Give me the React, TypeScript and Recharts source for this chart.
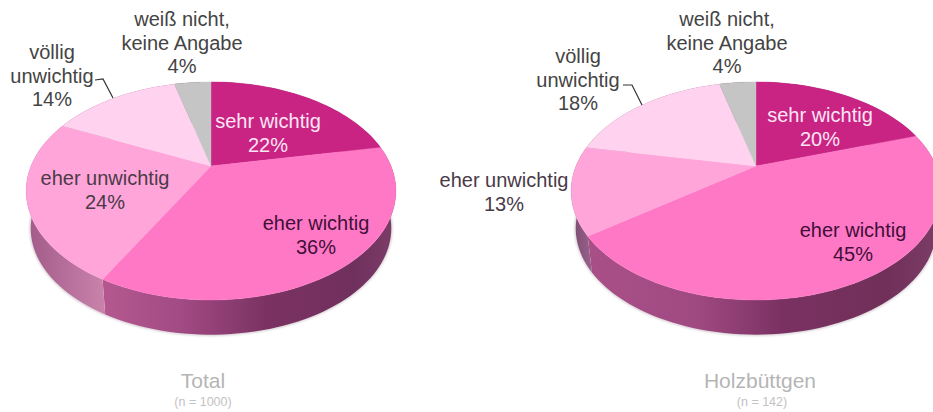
import React from "react";
import { PieChart, Pie } from "recharts";

const categories = [
  ["sehr wichtig"],
  ["eher wichtig"],
  ["eher unwichtig"],
  ["völlig", "unwichtig"],
  ["weiß nicht,", "keine Angabe"],
];
const totalValues = [22, 36, 24, 14, 4];
const holzbuettgenValues = [20, 45, 13, 18, 4];
const panelTitles = ["Total", "Holzbüttgen"];
const panelNotes = ["(n = 1000)", "(n = 142)"];

const topColors = ["#c92384", "#ff78c6", "#ffa5da", "#ffd3ef", "#c5c5c5"];
const labelColors = ["#fde6f4", "#3f0f38", "#4a3a48", "#444444", "#444444"];

// the pie is seen in perspective, so the hub sits above the middle of the ellipse
const TILT = 0.574;
const PERSP = 0.229;
const RADIUS = 180;
const CY = 166;
const DEPTH = 38;
const FONT = "'Liberation Sans', Arial, sans-serif";

const project = (cx: number, cy: number, r: number, deg: number) => {
  const a = (deg * Math.PI) / 180;
  const d = 1 + PERSP * Math.sin(a);
  return [cx + (r * Math.cos(a)) / d, cy - (r * TILT * Math.sin(a)) / d];
};

const arc = (cx: number, cy: number, r: number, start: number, end: number) => {
  const pts: number[][] = [];
  const steps = Math.max(2, Math.ceil(Math.abs(end - start) / 2));
  for (let i = 0; i <= steps; i++) {
    pts.push(project(cx, cy, r, start + ((end - start) * i) / steps));
  }
  return pts;
};

const toLine = (pts: number[][]) =>
  "M" + pts.map((p) => p[0].toFixed(2) + "," + p[1].toFixed(2)).join("L");

const TopSlice = (props: any) => {
  const { cx, cy, outerRadius, startAngle, endAngle, fill } = props;
  const pts = [[cx, cy], ...arc(cx, cy, outerRadius, startAngle, endAngle)];
  return <path d={toLine(pts) + "Z"} fill={fill} stroke={fill} strokeWidth={0.4} />;
};

const SideSlice = (props: any) => {
  const { cx, cy, outerRadius, startAngle, endAngle, fill } = props;
  const upper = arc(cx, cy, outerRadius, startAngle, endAngle);
  const lower = arc(cx, cy + DEPTH, outerRadius * 0.975, endAngle, startAngle);
  return (
    <g>
      <path
        d={toLine(lower)}
        fill="none"
        stroke="rgba(90,60,80,0.3)"
        strokeWidth={2}
        style={{ filter: "blur(1.2px)" }}
      />
      <path d={toLine([...upper, ...lower]) + "Z"} fill={fill} />
    </g>
  );
};

const labelLayouts = [
  [
    { x: 268, y: 128 },
    { x: 316, y: 230 },
    { x: 105, y: 185 },
    { x: 52, y: 59 },
    { x: 182, y: 26 },
  ],
  [
    { x: 820, y: 122 },
    { x: 853, y: 237 },
    { x: 504, y: 187 },
    { x: 578, y: 63 },
    { x: 727, y: 26 },
  ],
];
const leaders = ["95,80 103,79 113,98", "623,85 632,85 642,105"];

const makeLabel = (panel: number, values: number[]) => (props: any) => {
  const i = props.index;
  const pos = labelLayouts[panel][i];
  const lines = [...categories[i], values[i] + "%"];
  return (
    <g key={i}>
      {lines.map((line, n) => (
        <text
          key={n}
          x={pos.x}
          y={pos.y + n * 23.5}
          textAnchor="middle"
          fontFamily={FONT}
          fontSize={20}
          fill={labelColors[i]}
        >
          {line}
        </text>
      ))}
      {i === 3 && (
        <polyline points={leaders[panel]} fill="none" stroke="#333333" strokeWidth={1.2} />
      )}
    </g>
  );
};

const sideGradients = [
  // [id, x1, x2, stops]
  ["s0", 27, 396, [["0%", "#7a3a65"], ["100%", "#7a3a65"]]],
  ["s1", 107, 396, [["0%", "#b4578f"], ["25%", "#a24b84"], ["55%", "#7b3263"], ["85%", "#70305e"], ["100%", "#7c3d68"]]],
  ["s2", 27, 107, [["0%", "#a25a88"], ["100%", "#cb84ac"]]],
  ["h0", 571, 941, [["0%", "#7a3a65"], ["100%", "#7a3a65"]]],
  ["h1", 590, 941, [["0%", "#a94f88"], ["30%", "#a04a82"], ["55%", "#7a3162"], ["85%", "#703059"], ["100%", "#7c3d68"]]],
  ["h2", 571, 590, [["0%", "#7a4a6c"], ["100%", "#96608a"]]],
] as [string, number, number, string[][]][];

const build = (values: number[], fills: string[]) =>
  values.map((value, i) => ({ name: categories[i].join(" "), value, fill: fills[i] }));

const panels = [
  { cx: 211, values: totalValues, side: ["url(#s0)", "url(#s1)", "url(#s2)", "#7a3a65", "#7a3a65"], titleX: 203, noteX: 203 },
  { cx: 756, values: holzbuettgenValues, side: ["url(#h0)", "url(#h1)", "url(#h2)", "#7a3a65", "#7a3a65"], titleX: 760, noteX: 762 },
];

export default function App() {
  return (
    <div
      style={{
        position: "fixed",
        left: 0,
        top: 0,
        width: 933,
        height: 412,
        overflow: "hidden",
        background: "#ffffff",
      }}
    >
      <PieChart width={933} height={412} margin={{ top: 0, right: 0, bottom: 0, left: 0 }}>
        <defs>
          {sideGradients.map(([id, x1, x2, stops]) => (
            <linearGradient key={id} id={id} gradientUnits="userSpaceOnUse" x1={x1} x2={x2} y1={0} y2={0}>
              {stops.map(([offset, color]) => (
                <stop key={offset} offset={offset} stopColor={color} />
              ))}
            </linearGradient>
          ))}
        </defs>
        {panels.map((p, n) => (
          <Pie
            key={"side" + n}
            data={build(p.values, p.side)}
            dataKey="value"
            cx={p.cx}
            cy={CY}
            outerRadius={RADIUS}
            startAngle={90}
            endAngle={-270}
            stroke="none"
            shape={SideSlice}
            isAnimationActive={false}
          />
        ))}
        {panels.map((p, n) => (
          <Pie
            key={"top" + n}
            data={build(p.values, topColors)}
            dataKey="value"
            cx={p.cx}
            cy={CY}
            outerRadius={RADIUS}
            startAngle={90}
            endAngle={-270}
            stroke="none"
            shape={TopSlice}
            label={makeLabel(n, p.values)}
            labelLine={false}
            isAnimationActive={false}
          />
        ))}
        {panels.map((p, n) => (
          <g key={"title" + n} fontFamily={FONT} textAnchor="middle">
            <text x={p.titleX} y={388} fontSize={21} fill="#b5b5b5">
              {panelTitles[n]}
            </text>
            <text x={p.noteX} y={406} fontSize={12.5} fill="#c2c2c2">
              {panelNotes[n]}
            </text>
          </g>
        ))}
      </PieChart>
    </div>
  );
}
